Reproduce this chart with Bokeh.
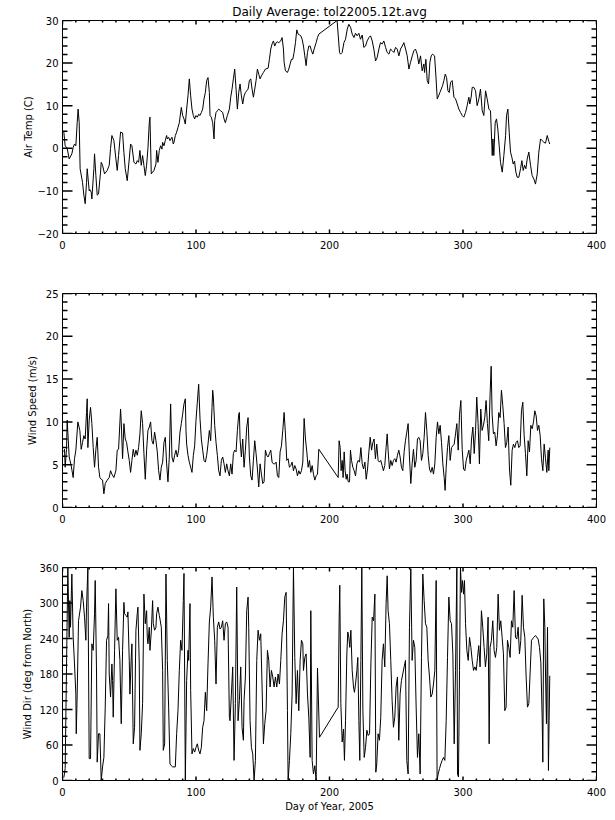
from bokeh.plotting import figure
from bokeh.models import Range1d, LinearAxis, FixedTicker, ColumnDataSource
from bokeh.layouts import column
from bokeh.embed import file_html
from bokeh.resources import INLINE

FONT = "DejaVu Sans"

title_text = "Daily Average: tol22005.12t.avg"
x_title = "Day of Year, 2005"
y_titles = ["Air Temp (C)", "Wind Speed (m/s)", "Wind Dir (deg from North)"]

x_ticks = [0, 100, 200, 300, 400]
temp_ticks = [-20, -10, 0, 10, 20, 30]
speed_ticks = [0, 5, 10, 15, 20, 25]
dir_ticks = [0, 60, 120, 180, 240, 300, 360]

temp_readings = [
(1,3.8),(2,0.6),(3.5,0.0),(5,-2.5),(7,-1.3),(8,0.2),(9,1.0),(10,0.6),(11,6.0),(11.7,9.2),(12.5,6.0),(13.2,-4.8),
(15,-8.0),(16,-11.0),(17,-13.0),(18,-8.0),(18.5,-4.8),(20,-10.0),(20.5,-9.7),(21.5,-10.3),(22,-11.9),(23.5,-4.8),
(24,-1.3),(25,-6.4),(26,-11.0),(27,-10.7),(28.5,-5.6),(29,-3.3),(30,-4.0),(31.5,-6.0),(33.5,-5.2),(35,-4.0),(36,0.0),
(37,3.0),(38.5,1.8),(40,-2.5),(41,-5.2),(42,-1.7),(43.5,3.8),(45,3.6),(46,-1.0),(47,-4.8),(48.5,-7.6),(50,-2.5),
(51,1.0),(52,0.6),(53.5,-3.3),(55,-3.7),(56,-2.9),(57,-3.3),(58,-0.5),(59,-4.0),(60,-1.7),(61,-4.0),(62,-6.4),
(63,-4.0),(64,0.0),(65,6.0),(65.5,7.3),(66.5,-6.0),(67.5,-5.6),(68.5,-5.2),(70,-3.7),(70.5,-0.5),(71.5,-3.3),
(72.5,-0.5),(73.5,0.6),(74.5,-0.2),(75,1.4),(76,0.6),(77,1.8),(78,3.0),(78.5,2.2),(79.5,2.6),(80.5,1.8),(82,2.6),
(83,1.0),(83.5,1.4),(84.5,3.0),(85.5,3.8),(86.5,4.9),(87.5,6.0),(89,9.6),(90,7.7),(91,6.9),(92,5.7),(93,9.2),
(94,12.3),(95,16.3),(96,12.3),(97,9.2),(98,7.7),(99,6.9),(100,7.7),(101,7.3),(102,8.0),(103,7.7),(104,8.4),
(105,9.2),(106,11.6),(107,13.1),(108,15.9),(109,16.6),(110,13.1),(110.5,7.7),(111.5,7.3),(112.5,6.0),(113.5,2.2),
(114,6.5),(115,8.4),(116,8.8),(117,9.2),(118.5,8.8),(120,8.4),(121,6.9),(122,6.0),(123.5,7.7),(125,9.2),(126,12.0),
(127,13.9),(128,16.3),(129,18.6),(130,13.9),(131,9.2),(132,13.1),(133,15.1),(134,12.3),(135,10.4),(136,12.3),
(137,13.1),(138,13.5),(139,13.9),(140,15.9),(141,16.3),(142,13.9),(143,12.0),(144,13.9),(145,15.9),(146,18.6),
(147,17.4),(148,16.3),(149,17.0),(150.5,17.8),(152,18.6),(154,18.8),(155,20.9),(156,23.3),(157,24.5),(158,25.2),
(159,24.0),(160,24.8),(161,25.0),(162,24.8),(163.5,25.2),(164.5,26.0),(165.5,23.3),(166,20.2),(167,18.2),
(168.5,17.8),(169.5,18.6),(170.5,19.8),(171.5,20.9),(172.5,20.9),(173.5,22.5),(174.5,24.8),(175.5,27.8),
(176.5,26.8),(177.5,26.6),(178.5,26.4),(179.5,25.6),(180.5,24.0),(181.5,21.7),(182.5,19.4),(183.5,22.5),
(184.5,24.0),(185.5,24.0),(186.5,22.9),(187.5,22.1),(188.5,23.3),(190,24.8),(191,26.0),(192,26.8),
(205.7,30.0),(207.5,22.5),(208.3,22.1),(209.5,22.5),(210.8,24.8),(212,25.6),(213.3,28.0),(214.5,29.1),
(215.8,28.4),(217,26.8),(218.3,26.0),(219.5,27.0),(220.7,26.4),(222,27.0),(223.2,25.6),(224.5,26.6),(225.7,23.7),
(227,24.0),(228.2,25.2),(229.5,26.0),(230.7,26.4),(232,25.2),(233.2,23.3),(234.5,20.5),(235.7,21.3),(237,23.3),
(238.2,24.8),(239.5,24.5),(240.7,25.2),(242,23.7),(243.2,22.5),(244.5,22.1),(245.7,23.3),(247,22.9),(248.2,22.5),
(249.5,23.7),(250.7,23.3),(252,21.7),(253.2,23.3),(254.5,24.0),(255.7,24.8),(257,23.3),(258.2,21.7),(259.5,18.6),
(260.7,20.2),(262,21.7),(263.2,22.9),(264.4,23.3),(265.7,22.1),(266.9,19.8),(268.2,21.7),(269.4,18.2),(270.7,19.8),
(271.2,17.8),(272.2,20.9),(273.2,15.9),(274.2,15.1),(275.2,20.2),(276.2,21.7),(277.2,22.1),(278.7,21.7),
(279.7,17.0),(280.7,11.6),(281.7,12.3),(282.7,13.1),(283.7,13.9),(284.7,14.7),(285.7,15.9),(286.7,17.4),
(287.7,16.6),(288.7,13.5),(289.7,13.1),(290.7,15.5),(291.9,15.9),(293.2,12.0),(294.4,11.6),(295.7,10.4),
(296.9,9.2),(298.2,8.4),(299.4,7.7),(300.6,7.3),(301.9,8.4),(303.1,10.0),(304.4,12.0),(305.1,10.4),(306.1,12.0),
(306.9,14.3),(308.1,14.3),(309.4,13.5),(310.6,10.0),(311.9,11.6),(313.1,13.9),(314.4,8.8),(315.6,7.7),
(316.9,13.5),(318.1,11.6),(319.4,9.2),(320.6,8.8),(321.9,-1.7),(322.4,2.2),(323.1,-1.7),(324.1,6.0),(325.1,6.9),
(326.1,4.5),(327.1,0.6),(328.1,-3.3),(329.4,-5.6),(330.6,-1.7),(331.9,3.0),(332.6,7.7),(333.6,9.2),(334.6,3.8),
(335.6,-0.9),(336.6,-2.1),(337.6,-3.7),(338.6,-3.0),(339.6,-5.6),(340.6,-6.8),(341.8,-6.8),(343.1,-4.8),
(344.1,-2.9),(345.1,-5.2),(346.1,-4.0),(347.1,-4.8),(348.1,-2.5),(349.3,-0.9),(350.6,-4.0),(351.8,-6.4),
(353.1,-7.2),(354.3,-8.4),(355.6,-6.0),(356.8,-0.9),(358.1,2.2),(359.3,1.8),(360.6,1.4),(361.8,1.2),(363.1,3.0),
(364.3,1.6),(365,1.0)]

speed_readings = [
(1,6.5),(1.5,6.8),(2,4.7),(3,6.8),(3.5,10.2),(4,8.8),(5,5.9),(6.5,4.9),(8,3.5),(9,5.7),(10,6.7),(11.5,10.0),
(13,9.0),(14,6.8),(15,7.6),(16,8.4),(17,8.0),(18,11.1),(18.5,12.7),(19,7.0),(20,10.2),(21,11.7),(22,9.8),(23,7.0),
(24,4.7),(25,6.8),(26,8.2),(27,4.7),(28,3.5),(29,3.3),(30,3.2),(31,1.6),(32,2.8),(33.5,3.2),(35,3.5),(36,4.3),
(37,3.9),(38.5,3.5),(40,4.3),(41,6.7),(42,6.8),(43.5,11.5),(44,10.0),(45,5.7),(46,9.8),(47,8.0),(48,7.6),(49,6.5),
(50,5.5),(51,4.1),(52,5.5),(53,6.8),(54,5.9),(55,6.7),(56,6.1),(57,7.0),(58,8.6),(59,11.3),(60,9.8),(61,6.3),
(62,3.3),(63,6.7),(64,9.0),(65,9.4),(66,10.0),(67,7.8),(68,7.4),(69,8.8),(70,7.8),(71,6.5),(72,4.3),(73,3.2),
(74,4.7),(75,5.3),(76,7.6),(77,8.2),(78,5.1),(79,3.0),(80,5.9),(81,12.1),(82,5.9),(83,5.3),(84,6.1),(85,6.7),
(86,5.9),(87,6.7),(88,8.8),(89,9.8),(90,10.9),(91,12.1),(92,12.7),(92.5,9.0),(93,7.4),(94,6.1),(95,5.3),(96,4.7),
(97,4.1),(98,6.1),(99,7.2),(100,10.2),(101,12.3),(102,14.4),(103,10.4),(104,8.0),(105,6.7),(106,5.5),(107,5.3),
(108,6.1),(109,7.4),(110,9.0),(111,7.8),(112,11.7),(112.5,13.7),(113,12.9),(114,9.6),(115,7.6),(116,6.1),
(117,4.3),(118,3.7),(119,5.5),(120,5.9),(121,5.1),(122,4.1),(123,5.1),(124,4.3),(125,3.7),(126,5.1),(127,3.9),
(128,6.3),(129,6.7),(130,6.5),(131,9.0),(132,10.9),(132.5,11.1),(133,8.0),(134,5.9),(135,8.0),(136,4.7),(137,6.7),
(138,9.4),(139,10.5),(140,5.9),(141,3.7),(142,3.2),(143,5.5),(144,7.8),(145,6.3),(146,4.5),(147,2.4),(148,5.1),
(149,3.9),(150,2.8),(151,3.0),(152,6.7),(153,6.1),(154,5.9),(155,6.3),(156,6.7),(157,5.3),(158,5.1),(159,5.1),
(160,5.3),(161,3.7),(162,3.5),(163,6.5),(164,7.2),(165,9.0),(166,11.1),(167,8.6),(168,5.5),(169,5.7),(170,4.7),
(171,4.9),(172,5.3),(173,4.3),(174,4.9),(175,4.5),(176,3.7),(177,4.3),(178,3.9),(179,4.3),(180,5.3),(181,10.4),
(182,8.0),(183,6.5),(184,4.7),(185,5.5),(186,4.1),(187,4.9),(188,3.9),(189,3.2),(190,3.7),(191,3.9),(192,6.8),
(206.5,3.5),(207.2,7.8),(208,7.0),(208.7,4.3),(209.5,5.5),(210.2,3.5),(211,6.5),(211.7,4.3),(212.5,3.3),
(213.2,3.9),(214,3.0),(215,3.0),(215.7,6.7),(216.5,5.5),(217.5,4.7),(218.5,4.3),(219.5,3.7),(220.5,5.1),
(221.5,5.5),(222.5,5.3),(223.5,7.0),(224.5,5.1),(225.5,4.5),(226.5,5.3),(227.5,3.3),(228.5,4.5),(229.5,6.5),
(230.5,8.2),(231.5,6.7),(232.5,7.6),(233.4,8.0),(234.4,5.7),(235.4,7.4),(236.4,5.5),(237.4,5.3),(238.4,5.5),
(239.4,4.9),(240.4,4.3),(241.4,4.9),(242.4,7.0),(243.2,8.6),(243.9,6.7),(244.9,4.5),(245.9,5.5),(246.9,4.9),
(247.9,5.5),(248.9,5.7),(249.9,5.3),(250.9,6.1),(251.9,6.7),(252.9,5.9),(253.9,4.7),(254.9,4.3),(255.9,6.5),
(256.9,7.8),(257.9,8.8),(258.9,9.8),(259.9,5.9),(260.9,2.8),(261.9,5.1),(262.9,6.8),(263.9,4.7),(264.9,5.5),
(265.9,8.0),(266.9,8.2),(267.9,7.8),(268.9,5.5),(269.9,6.3),(270.9,8.2),(271.9,11.1),(272.9,9.0),(273.9,6.1),
(274.9,4.5),(275.9,4.1),(276.9,4.7),(277.9,3.9),(278.9,5.1),(279.9,8.2),(280.9,10.0),(281.9,8.6),(282.9,9.6),
(283.9,7.6),(284.9,5.1),(285.9,3.5),(286.6,2.0),(287.4,4.7),(288.4,7.0),(289.4,8.4),(290.4,5.5),(291.4,7.0),
(292.4,7.2),(293.4,7.4),(294.4,8.6),(295.4,9.8),(296.4,6.7),(297.4,10.9),(298.4,12.5),(299.4,6.8),(300.4,4.5),
(301.4,4.3),(302.4,5.5),(303.4,6.1),(304.4,6.7),(305.4,5.1),(306.4,8.0),(307.4,9.4),(308.4,6.3),(309.4,9.0),
(310.3,12.9),(311.3,9.8),(312.3,5.1),(313.3,11.5),(314.3,9.0),(315.3,9.6),(316.3,10.5),(317.3,12.5),(318.3,9.8),
(319.3,7.8),(320.3,13.3),(321.1,16.5),(321.8,10.9),(322.8,8.6),(323.8,8.8),(324.8,7.2),(325.8,8.4),(326.8,11.1),
(327.8,10.5),(328.8,13.7),(329.8,11.9),(330.8,9.8),(331.8,7.0),(332.8,7.6),(333.8,9.4),(334.8,4.5),(335.8,2.6),
(336.8,6.7),(337.8,7.4),(338.8,7.0),(339.8,7.6),(340.8,7.8),(341.8,7.0),(342.8,7.2),(343.8,11.3),(344.8,12.3),
(345.8,8.4),(346.8,6.3),(347.8,3.7),(348.8,7.8),(349.8,6.5),(350.8,9.6),(351.8,9.2),(352.8,10.0),(353.8,11.3),
(354.8,10.7),(355.8,9.0),(356.8,9.6),(357.8,8.4),(358.8,5.7),(359.8,4.3),(360.8,7.4),(361.8,5.7),(362.8,4.1),
(363.8,6.7),(364.3,4.3),(365,7.0)]

dir_readings = [
(1,5),(2,20),(3,190),(4,360),(5,242),(5.5,304),(6,259),(7,349),(8,242),(9,197),(10,146),(10.3,79),(11,146),
(12,270),(13.5,293),(14.5,321),(15.5,304),(16.5,276),(17.5,237),(18,293),(19,360),(20,37),(21,37),(22,231),
(23,220),(24,282),(24.5,338),(25.5,180),(26,31),(27,79),(28,79),(29,0),(30,23),(31,39),(32,124),(33,237),(34,245),
(34.5,299),(35,180),(36,141),(37,197),(37.5,169),(38,107),(39,220),(40,324),(41,237),(42,242),(43,203),(43.5,146),
(44,96),(45,220),(46,301),(46.5,282),(47.5,279),(48.5,276),(49,285),(50,203),(50.5,146),(51.5,208),(52,231),
(53,62),(54,90),(55,254),(56,282),(56.5,293),(57.5,197),(58,51),(59,79),(60,130),(61,315),(62,265),(63,287),
(63.5,242),(64,231),(65,259),(65.5,220),(66.5,251),(67.5,304),(68,265),(69,254),(70,259),(70.5,282),(71.5,293),
(72.5,279),(73,273),(74,259),(75,186),(75.5,51),(76.5,62),(77.5,349),(78.5,203),(79.5,124),(80.5,28),(81.5,25),
(82.5,23),(83.5,23),(84.5,23),(85.5,79),(86.5,118),(87.5,186),(88.5,237),(89.5,220),(90.5,304),(91,350),(92,0),
(93,169),(94,220),(94.5,203),(95.5,299),(96,152),(97,45),(98,54),(99,48),(100,56),(101,62),(102,51),(103,45),
(104,56),(105,90),(106,101),(107,149),(108,118),(109,197),(110,268),(111,293),(112,344),(113,276),(114,237),
(115,163),(116,259),(117,268),(118,256),(119,259),(120,270),(121,237),(122,265),(123,268),(124,259),(125,107),
(125.5,101),(126.5,146),(127.5,192),(128.5,34),(129.5,130),(130.5,327),(131.5,101),(132.5,135),(133.5,192),
(134.5,90),(135.5,68),(136,135),(137,175),(138,287),(139,310),(139.5,259),(140.5,101),(141.5,56),(142.5,45),
(143.5,0),(144.5,34),(145.5,203),(146.5,254),(147.5,237),(148.5,248),(149.5,158),(150.5,62),(151.5,96),
(152.5,118),(153.5,220),(154.5,203),(155.5,158),(156.5,186),(157.5,175),(158.5,158),(159.5,175),(160.5,158),
(161.5,180),(162.5,163),(163.5,203),(164.5,248),(165.5,270),(166.5,310),(167.5,318),(168.5,118),(169,0),(170,34),
(171,79),(172,146),(173,360),(174,208),(175,130),(176,186),(177,118),(178,203),(179,237),(180,231),(180.5,186),
(181.5,208),(182.5,214),(183.5,146),(184.5,107),(185.5,39),(186,287),(187,34),(188,11),(189,25),(190,0),
(191,190),(192.5,73),
(206.5,124),(207.2,270),(207.7,330),(208.5,130),(209.5,65),(210.5,87),(211.2,34),(212,101),(213,214),(213.7,251),
(214.5,242),(215.2,225),(216,254),(217,186),(218,158),(218.7,149),(219.5,163),(220.5,186),(221.2,208),(222,101),
(222.7,34),(223.5,203),(224.2,360),(225,118),(226,39),(227,56),(228,85),(229,76),(230,79),(231,197),(232,276),
(233,270),(234,315),(234.7,14),(235.4,28),(236.4,79),(237.4,68),(238.4,107),(239.4,203),(240.4,231),(241.4,192),
(242.4,299),(243.2,346),(243.9,287),(244.9,265),(245.9,203),(246.9,135),(247.9,90),(248.9,107),(249.9,158),
(250.9,175),(251.9,68),(252.9,146),(253.9,169),(254.9,180),(255.9,192),(256.9,203),(257.9,34),(258.9,11),
(259.9,259),(260.9,358),(261.9,203),(262.9,237),(263.9,225),(264.9,124),(265.9,39),(266.9,79),(267.9,11),
(268.9,208),(269.9,349),(270.9,304),(271.9,265),(272.9,259),(273.9,203),(274.9,175),(275.9,141),(276.9,146),
(277.9,163),(278.9,186),(279.9,338),(280.6,0),(281.4,11),(282.4,20),(283.4,28),(284.4,34),(285.4,39),(286.4,34),
(287.4,101),(288.4,208),(289.4,310),(290.4,270),(291.4,265),(292.4,214),(293.4,62),(294.4,186),(295.4,360),
(295.9,11),(296.6,6),(297.4,186),(298.1,360),(298.9,318),(299.6,338),(300.4,315),(301.1,338),(301.9,265),
(302.9,220),(303.9,203),(304.9,242),(305.9,225),(306.9,203),(307.9,186),(308.9,192),(309.9,186),(310.9,208),
(311.8,228),(312.8,192),(313.8,287),(314.8,259),(315.8,225),(316.8,192),(317.8,214),(318.8,276),(319.6,62),
(320.3,225),(321.3,237),(322.3,270),(323.3,220),(324.3,208),(325.3,225),(326.3,315),(327.3,254),(328.3,270),
(329.3,242),(330.3,214),(331.3,118),(332.3,124),(333.3,237),(334.3,225),(335.3,208),(336.3,270),(337.3,259),
(338.3,321),(339.3,242),(340.3,239),(341.3,259),(342.3,214),(343.3,237),(344.3,313),(345.3,259),(346.3,242),
(347.3,175),(348.3,124),(349.3,130),(351.3,237),(353,242),(354.3,245),(356.3,239),(357.3,225),(358.3,200),
(359.3,107),(359.8,31),(360.5,307),(361.3,259),(361.8,180),(362.5,96),(363.3,259),(364,17),(364.5,101),(365,177)]

FRAME_W = 534
X0, X1 = 0, 400

panels = [
    dict(data=temp_readings, y0=-20, y1=30, ticks=temp_ticks, minor=2, label=y_titles[0],
         fh=213, top=20, bottom=30, lstand=0),
    dict(data=speed_readings, y0=0, y1=25, ticks=speed_ticks, minor=1, label=y_titles[1],
         fh=214, top=30, bottom=30, lstand=5),
    dict(data=dir_readings, y0=0, y1=360, ticks=dir_ticks, minor=15, label=y_titles[2],
         fh=213, top=30, bottom=35, lstand=3),
]


def style_axis(ax):
    ax.axis_line_color = "black"
    ax.axis_line_width = 1
    ax.major_tick_line_color = None
    ax.minor_tick_line_color = None
    ax.major_tick_in = 0
    ax.major_tick_out = 0
    ax.minor_tick_in = 0
    ax.minor_tick_out = 0
    ax.major_label_text_font = FONT
    ax.major_label_text_font_size = "10px"
    ax.major_label_text_color = "black"
    ax.axis_label_text_font = FONT
    ax.axis_label_text_font_size = "10px"
    ax.axis_label_text_font_style = "normal"
    ax.axis_label_text_color = "black"


def tick_source(xmaj, xmin, ymaj, ymin, y0, y1, fh):
    """Inward tick marks on all four sides of the frame, IDL style (lengths in px)."""
    ux = (X1 - X0) / FRAME_W
    uy = (y1 - y0) / fh
    xs, ys = [], []
    for ticks, ln in ((xmaj, 4), (xmin, 2)):
        for t in ticks:
            xs += [[t, t], [t, t]]
            ys += [[y0, y0 + ln * uy], [y1, y1 - ln * uy]]
    for ticks, ln in ((ymaj, 10), (ymin, 5)):
        for t in ticks:
            ys += [[t, t], [t, t]]
            xs += [[X0, X0 + ln * ux], [X1, X1 - ln * ux]]
    return ColumnDataSource(data=dict(xs=xs, ys=ys))


figs = []
for i, pan in enumerate(panels):
    p = figure(frame_width=FRAME_W, frame_height=pan["fh"], output_backend="svg", toolbar_location=None,
               x_range=Range1d(X0, X1), y_range=Range1d(pan["y0"], pan["y1"]),
               x_axis_type=None, y_axis_type=None,
               min_border_left=62, min_border_right=10,
               min_border_top=pan["top"], min_border_bottom=pan["bottom"])
    p.background_fill_color = "white"
    p.border_fill_color = "white"
    p.outline_line_color = "black"
    p.outline_line_width = 1

    x_minor = [v for v in range(X0, X1 + 1, 10) if v not in x_ticks]
    y_minor = [v for v in range(pan["y0"], pan["y1"] + 1, pan["minor"]) if v not in pan["ticks"]]

    xb = LinearAxis(ticker=FixedTicker(ticks=x_ticks))
    style_axis(xb)
    xb.major_label_standoff = 7
    if i == 2:
        xb.axis_label = x_title
        xb.axis_label_standoff = 2
    p.add_layout(xb, "below")

    yl = LinearAxis(ticker=FixedTicker(ticks=pan["ticks"]), axis_label=pan["label"])
    style_axis(yl)
    yl.major_label_standoff = 4
    yl.axis_label_standoff = pan["lstand"]
    p.add_layout(yl, "left")

    src = tick_source(x_ticks, x_minor, pan["ticks"], y_minor, pan["y0"], pan["y1"], pan["fh"])
    p.multi_line(xs="xs", ys="ys", source=src, line_color="black", line_width=1.5)

    days = [d for d, v in pan["data"]]
    vals = [v for d, v in pan["data"]]
    p.line(days, vals, line_color="black", line_width=1)

    if i == 0:
        p.title.text = title_text
        p.title.align = "center"
        p.title.text_font = FONT
        p.title.text_font_size = "12px"
        p.title.text_font_style = "normal"
        p.title.text_color = "black"
        p.title.standoff = 4
    figs.append(p)

layout = column(*figs, spacing=0)
open("out.html", "w").write(file_html(layout, INLINE))
